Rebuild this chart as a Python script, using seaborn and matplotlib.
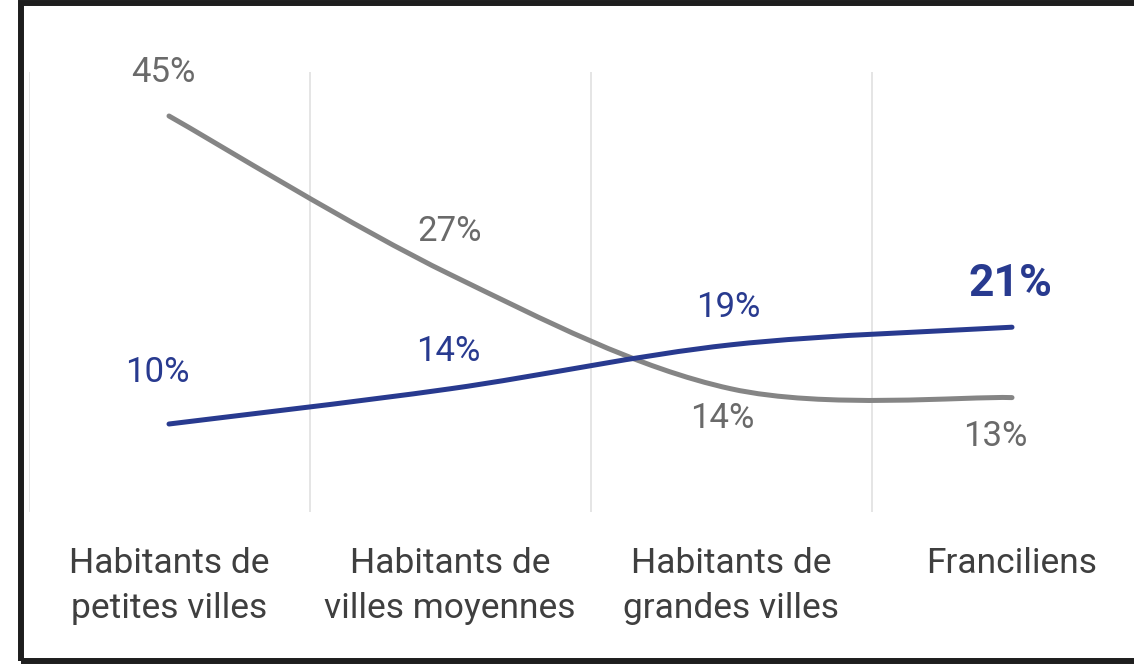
import numpy as np
import seaborn as sns
import matplotlib.pyplot as plt
from matplotlib.path import Path
from matplotlib.patches import PathPatch, Rectangle

# categories and values
categories = ["Habitants de\npetites villes", "Habitants de\nvilles moyennes",
              "Habitants de\ngrandes villes", "Franciliens"]
grey_values = [45, 27, 14, 13]
blue_values = [10, 14, 19, 21]

# label offsets (pixels) from each point
grey_offsets = [(-6, 43), (0, 43), (-9, -30), (-17, -39)]
blue_offsets = [(-12, 51), (-2, 37), (-3, 37), (-2, 43)]

GREY = "#858585"
BLUE = "#283a8f"

sns.set_theme(style="white")
plt.rcParams['font.family'] = ['Roboto', 'DejaVu Sans']

fig = plt.figure(figsize=(11.34, 6.64), dpi=100)
ax = fig.add_axes([28.5 / 1134, 152 / 664, 1124 / 1134, 440 / 664])


def smooth_path(xs, ys):
    # Excel style smoothed line: cubic bezier between the points
    pts = np.column_stack([xs, ys]).astype(float)
    n = len(pts)
    verts = [pts[0]]
    codes = [Path.MOVETO]
    for i in range(n - 1):
        p_prev = pts[i - 1] if i > 0 else pts[i]
        p_next = pts[i + 2] if i + 2 < n else pts[i + 1]
        c1 = pts[i] + (pts[i + 1] - p_prev) / 6
        c2 = pts[i + 1] - (p_next - pts[i]) / 6
        verts += [c1, c2, pts[i + 1]]
        codes += [Path.CURVE4] * 3
    return Path(verts, codes)


x = np.arange(len(categories))
for vals, col in [(grey_values, GREY), (blue_values, BLUE)]:
    patch = PathPatch(smooth_path(x, vals), facecolor="none", edgecolor=col,
                      lw=3.6, capstyle="round", joinstyle="round", zorder=3)
    ax.add_patch(patch)

for xi, v, off in zip(x, grey_values, grey_offsets):
    ax.annotate(f"{v}%", (xi, v), xytext=off, textcoords="offset pixels",
                ha="center", va="center", fontsize=25, color="#6a6a6a")
for i, (xi, v, off) in enumerate(zip(x, blue_values, blue_offsets)):
    last = i == len(blue_values) - 1
    ax.annotate(f"{v}%", (xi, v), xytext=off, textcoords="offset pixels",
                ha="center", va="center", fontsize=32 if last else 25,
                color=BLUE, fontweight="bold" if last else "normal")

# gridlines between the categories
for b in np.arange(-0.5, len(categories) - 0.5):
    ax.axvline(b, color="#e3e3e3", lw=1.3, zorder=1)

ax.set_xlim(-0.5, len(categories) - 0.5)
ax.set_ylim(0, 50)
ax.set_yticks([])
ax.set_xticks(x)
ax.set_xticklabels(categories, fontsize=25.5, color="#3f3f3f", linespacing=1.45)
ax.tick_params(axis="x", length=0, pad=25.5)
sns.despine(ax=ax, left=True, bottom=True)

# dark frame around the chart
fig.patches.append(Rectangle((21 / 1134, 3 / 664), 1.2, 658 / 664,
                             transform=fig.transFigure, fill=False,
                             edgecolor="#1e1e1e", lw=4.3))

fig.savefig("out.png", dpi=100)
